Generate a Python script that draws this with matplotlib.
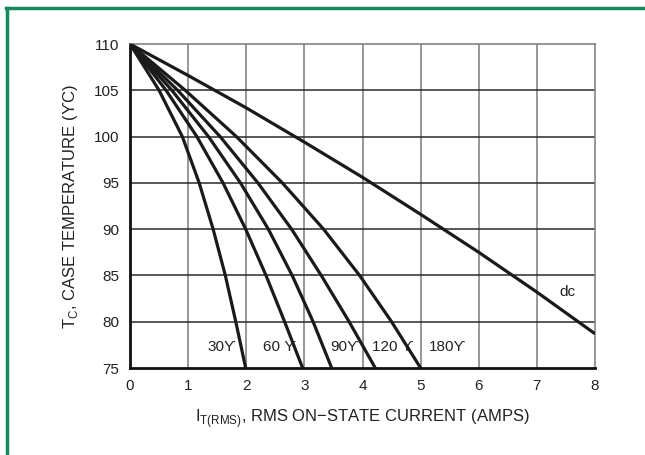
import numpy as np
import matplotlib.pyplot as plt
from matplotlib.lines import Line2D

plt.rcParams['font.family'] = ['Liberation Sans', 'DejaVu Sans']

# case temperature levels (deg C) where the curves were read
temps = [110, 105, 100, 95, 90, 85, 80, 75]
# RMS on-state current (A) at each temperature, per conduction angle
i_30 = [0, 0.50, 0.90, 1.19, 1.43, 1.64, 1.82, 1.99]
i_60 = [0, 0.62, 1.15, 1.60, 1.99, 2.34, 2.66, 2.97]
i_90 = [0, 0.72, 1.35, 1.90, 2.38, 2.79, 3.15, 3.47]
i_120 = [0, 0.82, 1.55, 2.20, 2.78, 3.29, 3.77, 4.22]
i_180 = [0, 0.95, 1.83, 2.62, 3.33, 3.95, 4.50, 5.0]
# dc curve
dc_i = [0, 1, 2, 3, 4, 5, 6, 7, 8]
dc_t = [110, 106.6, 103.1, 99.4, 95.6, 91.6, 87.5, 83.2, 78.7]

angle_labels = ['30ϒ', '60 ϒ', '90ϒ', '120 ϒ', '180ϒ']
label_x = [1.58, 2.58, 3.70, 4.53, 5.46]

fig = plt.figure(figsize=(6.45, 4.55), dpi=100)
ax = fig.add_axes([130 / 645, 87 / 455, 465 / 645, 324 / 455])

ax.set_xlim(0, 8)
ax.set_ylim(75, 110)
ax.set_xticks(range(0, 9))
ax.set_yticks(range(75, 111, 5))

# grid: vertical gray, horizontal dark
for x in range(1, 8):
    ax.axvline(x, color='#7a7a7a', lw=1.1, zorder=1)
for y in range(80, 110, 5):
    ax.axhline(y, color='#2a2a2a', lw=1.1, zorder=1)

for cur in [i_30, i_60, i_90, i_120, i_180]:
    ax.plot(cur, temps, color='#1a1a1a', lw=2.3, solid_capstyle='butt',
            solid_joinstyle='round', zorder=3)
ax.plot(dc_i, dc_t, color='#1a1a1a', lw=2.3, solid_capstyle='butt',
        solid_joinstyle='round', zorder=3)

for lab, lx in zip(angle_labels, label_x):
    bbox = None
    if lab.startswith('180'):
        bbox = dict(facecolor='white', edgecolor='none', pad=1)
    ax.text(lx, 77.3, lab, ha='center', va='center', fontsize=11,
            color='#222222', bbox=bbox, zorder=2)
ax.text(7.52, 83.2, 'dc', ha='center', va='center', fontsize=11, color='#222222')

for s in ['top', 'right']:
    ax.spines[s].set_color('#7a7a7a')
    ax.spines[s].set_linewidth(1.1)
for s in ['left', 'bottom']:
    ax.spines[s].set_color('#111111')
    ax.spines[s].set_linewidth(2.0)

ax.tick_params(length=0, labelsize=11, colors='#222222', pad=8)
ax.set_xlabel('I$_{\\mathregular{T(RMS)}}$, RMS ON\u2212STATE CURRENT (AMPS)',
              fontsize=12, color='#222222', labelpad=10)
ax.set_ylabel('T$_{\\mathregular{C}}$, CASE TEMPERATURE (ϒC)',
              fontsize=12, color='#222222', labelpad=10)

# green frame
green = '#16895c'
fig.add_artist(Line2D([6 / 645, 1], [1 - 8 / 455, 1 - 8 / 455],
                      transform=fig.transFigure, color=green, lw=2.5))
fig.add_artist(Line2D([7 / 645, 7 / 645], [0, 1 - 8 / 455],
                      transform=fig.transFigure, color=green, lw=2.5))

fig.savefig('out.png', dpi=100)
